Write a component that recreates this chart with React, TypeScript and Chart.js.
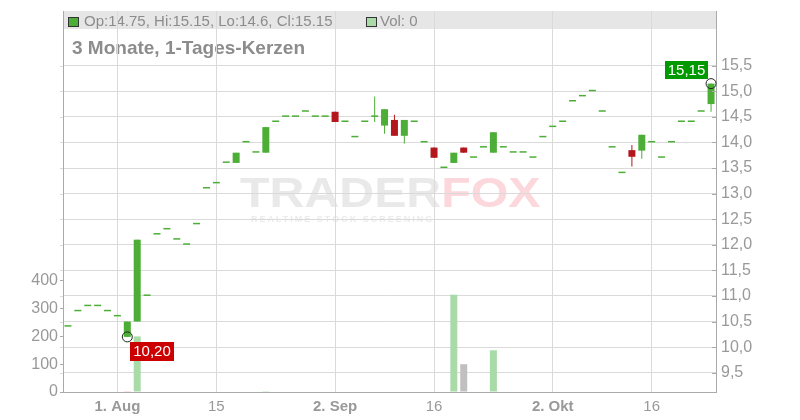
import React, { useEffect, useRef } from 'react';
import { Chart, registerables } from 'chart.js';

Chart.register(...registerables);

const FONT = "'Liberation Sans', Arial, Helvetica, sans-serif";

const dates = [
  '2024-07-25', '2024-07-26', '2024-07-29', '2024-07-30', '2024-07-31',
  '2024-08-01', '2024-08-02', '2024-08-05', '2024-08-06', '2024-08-07', '2024-08-08', '2024-08-09',
  '2024-08-12', '2024-08-13', '2024-08-14', '2024-08-15', '2024-08-16',
  '2024-08-19', '2024-08-20', '2024-08-21', '2024-08-22', '2024-08-23',
  '2024-08-26', '2024-08-27', '2024-08-28', '2024-08-29', '2024-08-30',
  '2024-09-02', '2024-09-03', '2024-09-04', '2024-09-05', '2024-09-06',
  '2024-09-09', '2024-09-10', '2024-09-11', '2024-09-12', '2024-09-13',
  '2024-09-16', '2024-09-17', '2024-09-18', '2024-09-19', '2024-09-20',
  '2024-09-23', '2024-09-24', '2024-09-25', '2024-09-26', '2024-09-27',
  '2024-09-30', '2024-10-01', '2024-10-02', '2024-10-03', '2024-10-04',
  '2024-10-07', '2024-10-08', '2024-10-09', '2024-10-10', '2024-10-11',
  '2024-10-14', '2024-10-15', '2024-10-16', '2024-10-17', '2024-10-18',
  '2024-10-21', '2024-10-22', '2024-10-23', '2024-10-24',
];

const opens = [
  10.4, 10.7, 10.8, 10.8, 10.7, 10.6, 10.2, 10.5, 11.0, 12.2,
  12.3, 12.1, 12.0, 12.4, 13.1, 13.2, 13.6, 13.6, 14.0, 13.8,
  13.8, 14.4, 14.5, 14.5, 14.6, 14.5, 14.5, 14.6, 14.4, 14.1,
  14.4, 14.5, 14.33, 14.44, 14.13, 14.4, 14.0, 13.9, 13.5, 13.6,
  13.9, 13.7, 13.9, 13.8, 13.9, 13.8, 13.8, 13.7, 14.1, 14.3,
  14.4, 14.8, 14.9, 15.0, 14.6, 13.9, 13.4, 13.85, 13.84, 14.0,
  13.7, 14.0, 14.4, 14.4, 14.6, 14.75,
];
const highs = [
  10.4, 10.7, 10.8, 10.8, 10.7, 10.6, 10.5, 12.1, 11.0, 12.2,
  12.3, 12.1, 12.0, 12.4, 13.1, 13.2, 13.6, 13.8, 14.0, 13.8,
  14.3, 14.4, 14.5, 14.5, 14.6, 14.5, 14.5, 14.6, 14.4, 14.1,
  14.4, 14.9, 14.65, 14.54, 14.44, 14.4, 14.0, 13.9, 13.5, 13.8,
  13.9, 13.7, 13.9, 14.2, 13.9, 13.8, 13.8, 13.7, 14.1, 14.3,
  14.4, 14.8, 14.9, 15.0, 14.6, 13.9, 13.4, 13.95, 14.15, 14.0,
  13.7, 14.0, 14.4, 14.4, 14.6, 15.15,
];
const lows = [
  10.4, 10.7, 10.8, 10.8, 10.7, 10.6, 10.2, 10.5, 11.0, 12.2,
  12.3, 12.1, 12.0, 12.4, 13.1, 13.2, 13.6, 13.6, 14.0, 13.8,
  13.8, 14.4, 14.5, 14.5, 14.6, 14.5, 14.5, 14.4, 14.4, 14.1,
  14.4, 14.4, 14.17, 14.13, 13.98, 14.4, 14.0, 13.7, 13.5, 13.6,
  13.8, 13.7, 13.9, 13.8, 13.9, 13.8, 13.8, 13.7, 14.1, 14.3,
  14.4, 14.8, 14.9, 15.0, 14.6, 13.9, 13.4, 13.53, 13.68, 14.0,
  13.7, 14.0, 14.4, 14.4, 14.6, 14.6,
];
const closes = [
  10.4, 10.7, 10.8, 10.8, 10.7, 10.6, 10.5, 12.1, 11.0, 12.2,
  12.3, 12.1, 12.0, 12.4, 13.1, 13.2, 13.6, 13.8, 14.0, 13.8,
  14.3, 14.4, 14.5, 14.5, 14.6, 14.5, 14.5, 14.4, 14.4, 14.1,
  14.4, 14.5, 14.65, 14.13, 14.44, 14.4, 14.0, 13.7, 13.5, 13.8,
  13.8, 13.7, 13.9, 14.2, 13.9, 13.8, 13.8, 13.7, 14.1, 14.3,
  14.4, 14.8, 14.9, 15.0, 14.6, 13.9, 13.4, 13.72, 14.15, 14.0,
  13.7, 14.0, 14.4, 14.4, 14.6, 15.15,
];
const volumes = [
  0, 0, 0, 0, 0, 0, 3, 200, 0, 0,
  0, 0, 0, 0, 0, 0, 0, 0, 0, 0,
  3, 0, 0, 0, 0, 0, 0, 0, 0, 0,
  0, 0, 0, 0, 0, 0, 0, 0, 0, 350,
  100, 0, 0, 150, 0, 0, 0, 0, 0, 0,
  0, 0, 0, 0, 0, 0, 0, 0, 0, 0,
  0, 0, 0, 0, 0, 0,
];

const priceTicks = [9.5, 10, 10.5, 11, 11.5, 12, 12.5, 13, 13.5, 14, 14.5, 15, 15.5];
const volumeTicks = [0, 100, 200, 300, 400];
const xTickDates = ['2024-08-01', '2024-08-15', '2024-09-02', '2024-09-16', '2024-10-02', '2024-10-16'];
const xTickLabels = ['1. Aug', '15', '2. Sep', '16', '2. Okt', '16'];
const xTickBold = [true, false, true, false, true, false];
const titleText = '3 Monate, 1-Tages-Kerzen';

const UP = '#4cae37';
const DOWN = '#b3171b';
const VOL_UP = '#a9dba9';
const VOL_DOWN = '#f2b0b0';
const VOL_FLAT = '#c0c0c0';
const GRID = '#dadada';
const AXIS = '#aaaaaa';
const LABEL = '#999999';

function fmt1(v: number) {
  return v.toFixed(1).replace('.', ',');
}
function fmt2(v: number) {
  return v.toFixed(2).replace('.', ',');
}

export default function App() {
  const ref = useRef<HTMLCanvasElement>(null);

  useEffect(() => {
    const canvas = ref.current;
    if (!canvas) return;

    const candleColors = opens.map((o, i) => (closes[i] < o ? DOWN : UP));
    const volColors = closes.map((c, i) => {
      const p = i > 0 ? closes[i - 1] : c;
      return c > p ? VOL_UP : c < p ? VOL_DOWN : VOL_FLAT;
    });

    const zeroPad = (s: any) => {
      s.paddingTop = 0;
      s.paddingBottom = 0;
      s.paddingLeft = 0;
      s.paddingRight = 0;
    };

    const overlay = {
      id: 'overlay',
      beforeDraw(chart: any) {
        const { ctx, chartArea: a } = chart;
        ctx.save();
        ctx.fillStyle = '#ffffff';
        ctx.fillRect(0, 0, chart.width, chart.height);
        // header band
        ctx.fillStyle = '#e6e6e6';
        ctx.fillRect(a.left, a.top, a.right - a.left, 18);

        // watermark
        ctx.textBaseline = 'alphabetic';
        ctx.textAlign = 'left';
        ctx.font = `bold 42px ${FONT}`;
        ctx.save();
        ctx.translate(240, 207);
        ctx.scale(1.15, 1);
        ctx.fillStyle = '#e9e9e9';
        ctx.fillText('TRADER', 0, 0);
        const w = ctx.measureText('TRADER').width;
        ctx.fillStyle = '#fcd8dc';
        ctx.fillText('FOX', w, 0);
        ctx.restore();
        ctx.font = `bold 9px ${FONT}`;
        (ctx as any).letterSpacing = '2px';
        ctx.fillStyle = '#ebebeb';
        ctx.fillText('REALTIME STOCK SCREENING', 251, 222);
        (ctx as any).letterSpacing = '0px';

        // header legend
        const last = dates.length - 1;
        ctx.lineWidth = 1;
        ctx.strokeStyle = '#333333';
        ctx.fillStyle = UP;
        ctx.fillRect(68.5, 17.5, 10, 9);
        ctx.strokeRect(68.5, 17.5, 10, 9);
        ctx.fillStyle = VOL_UP;
        ctx.fillRect(366.5, 17.5, 10, 9);
        ctx.strokeRect(366.5, 17.5, 10, 9);
        ctx.font = `15px ${FONT}`;
        ctx.fillStyle = '#8c8c8c';
        ctx.textBaseline = 'middle';
        ctx.fillText(
          `Op:${opens[last]}, Hi:${highs[last]}, Lo:${lows[last]}, Cl:${closes[last]}`,
          84,
          21.5
        );
        ctx.fillText(`Vol: ${volumes[last]}`, 380, 21.5);

        // title
        ctx.font = `bold 19px ${FONT}`;
        ctx.textBaseline = 'alphabetic';
        ctx.fillStyle = '#8c8c8c';
        ctx.fillText(titleText, 72, 54);
        ctx.restore();
      },
      afterDatasetsDraw(chart: any) {
        const { ctx, chartArea: a } = chart;
        const xs = chart.scales.x;
        const ys = chart.scales.y;
        ctx.save();
        // small tick marks
        ctx.lineWidth = 1;
        priceTicks.forEach((v) => {
          const py = Math.round(ys.getPixelForValue(v)) + 0.5;
          ctx.strokeStyle = AXIS;
          ctx.beginPath();
          ctx.moveTo(a.right - 4, py);
          ctx.lineTo(a.right, py);
          ctx.stroke();
          ctx.strokeStyle = GRID;
          ctx.beginPath();
          ctx.moveTo(a.left - 3, py);
          ctx.lineTo(a.left, py);
          ctx.stroke();
        });

        // extremes
        let hiI = 0;
        let loI = 0;
        highs.forEach((h, i) => {
          if (h >= highs[hiI]) hiI = i;
        });
        lows.forEach((l, i) => {
          if (l < lows[loI]) loI = i;
        });

        const drawCircle = (x: number, y: number) => {
          ctx.beginPath();
          ctx.arc(x, y, 5, 0, Math.PI * 2);
          ctx.strokeStyle = '#222222';
          ctx.lineWidth = 1;
          ctx.stroke();
        };
        const drawBox = (x: number, y: number, w: number, h: number, bg: string, text: string) => {
          ctx.fillStyle = bg;
          ctx.fillRect(x, y, w, h);
          ctx.fillStyle = '#ffffff';
          ctx.font = `15px ${FONT}`;
          ctx.textAlign = 'center';
          ctx.textBaseline = 'middle';
          ctx.fillText(text, x + w / 2, y + h / 2 + 0.5);
        };

        const hx = xs.getPixelForValue(hiI);
        const hy = ys.getPixelForValue(highs[hiI]);
        drawCircle(hx, hy);
        drawBox(Math.round(hx - 46), Math.round(hy - 23), 43, 18, '#009900', fmt2(highs[hiI]));

        const lx = xs.getPixelForValue(loI);
        const ly = ys.getPixelForValue(lows[loI]);
        drawCircle(lx, ly);
        drawBox(Math.round(lx + 3), Math.round(ly + 5), 44, 19, '#cc0000', fmt2(lows[loI]));
        ctx.restore();
      },
    };

    const chart = new Chart(canvas, {
      type: 'bar',
      data: {
        labels: dates,
        datasets: [
          {
            label: 'Volumen',
            data: volumes.map((v) => (v > 0 ? v : null)),
            yAxisID: 'yVol',
            backgroundColor: volColors,
            barThickness: 7,
            inflateAmount: 0,
            grouped: false,
            order: 3,
          } as any,
          {
            label: 'Docht',
            data: lows.map((l, i) => [l, highs[i]]),
            yAxisID: 'y',
            backgroundColor: candleColors,
            barThickness: 1,
            inflateAmount: 0,
            grouped: false,
            order: 2,
          } as any,
          {
            label: 'Kerze',
            data: opens.map((o, i) => [o, closes[i]]),
            yAxisID: 'y',
            backgroundColor: candleColors,
            barThickness: 7,
            minBarLength: 1.5,
            inflateAmount: 0,
            grouped: false,
            order: 1,
          } as any,
        ],
      },
      options: {
        responsive: false,
        animation: false,
        events: [],
        layout: { padding: { top: 11, left: 0, right: 0, bottom: 0 } },
        plugins: {
          legend: { display: false },
          tooltip: { enabled: false },
        },
        scales: {
          x: {
            type: 'category',
            offset: true,
            grid: { offset: false, color: GRID, drawTicks: false, lineWidth: 1 },
            border: { color: AXIS },
            afterBuildTicks: (s: any) => {
              s.ticks = xTickDates.map((d) => ({ value: dates.indexOf(d) }));
            },
            ticks: {
              autoSkip: false,
              maxRotation: 0,
              padding: 6,
              color: LABEL,
              font: (c: any) => ({
                family: FONT,
                size: 15,
                weight: xTickBold[c.index] ? 'bold' : 'normal',
              }),
              callback: (_v: any, i: number) => xTickLabels[i],
            },
            afterFit: (s: any) => {
              s.height = 28;
              zeroPad(s);
            },
          } as any,
          yVol: {
            type: 'linear',
            position: 'left',
            min: 0,
            max: 1370,
            afterBuildTicks: (s: any) => {
              s.ticks = volumeTicks.map((v) => ({ value: v }));
            },
            grid: { drawOnChartArea: false, drawTicks: true, tickLength: 3, color: AXIS },
            border: { color: AXIS },
            ticks: {
              color: LABEL,
              padding: 2,
              font: { family: FONT, size: 16 },
              callback: (v: any) => String(v),
            },
            afterFit: (s: any) => {
              s.width = 63;
              zeroPad(s);
            },
          } as any,
          y: {
            type: 'linear',
            position: 'right',
            min: 9.123,
            max: 16.569,
            afterBuildTicks: (s: any) => {
              s.ticks = priceTicks.map((v) => ({ value: v }));
            },
            grid: { color: GRID, drawTicks: false, lineWidth: 1 },
            border: { color: AXIS },
            ticks: {
              color: LABEL,
              padding: 5,
              font: { family: FONT, size: 16 },
              callback: (v: any) => fmt1(Number(v)),
            },
            afterFit: (s: any) => {
              s.width = 84;
              zeroPad(s);
            },
          } as any,
        },
      },
      plugins: [overlay],
    });

    return () => chart.destroy();
  }, []);

  return (
    <div style={{ position: 'fixed', left: 0, top: 0, width: 800, height: 420, background: '#fff' }}>
      <canvas ref={ref} width={800} height={420} style={{ display: 'block', width: 800, height: 420 }} />
    </div>
  );
}
